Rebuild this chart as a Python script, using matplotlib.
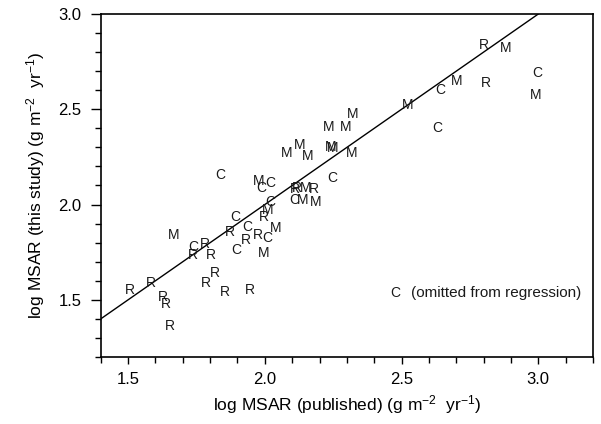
import matplotlib
matplotlib.use("Agg")
import matplotlib.pyplot as plt
from matplotlib.ticker import MultipleLocator

plt.rcParams['font.family'] = ['Liberation Sans', 'DejaVu Sans']
plt.rcParams['mathtext.fontset'] = 'custom'
plt.rcParams['mathtext.rm'] = 'Liberation Sans'
plt.rcParams['mathtext.it'] = 'Liberation Sans'

# R points (published, this study)
r_x = [1.507, 1.583, 1.627, 1.639, 1.654, 1.786, 1.816, 1.855, 1.947, 1.737,
       1.782, 1.803, 1.874, 1.929, 1.975, 1.996, 2.119, 2.178, 2.801, 2.808, 2.110]
r_y = [1.551, 1.588, 1.514, 1.478, 1.362, 1.588, 1.642, 1.542, 1.551, 1.735,
       1.793, 1.735, 1.857, 1.816, 1.840, 1.936, 2.087, 2.081, 2.837, 2.636, 2.080]

# M points
m_x = [1.666, 1.996, 2.038, 2.009, 2.148, 2.137, 2.185, 1.976, 2.081, 2.127,
       2.156, 2.240, 2.248, 2.233, 2.295, 2.321, 2.316, 2.521, 2.701, 2.881, 2.991]
m_y = [1.840, 1.744, 1.875, 1.971, 2.087, 2.024, 2.013, 2.125, 2.269, 2.312,
       2.256, 2.300, 2.295, 2.408, 2.408, 2.475, 2.269, 2.522, 2.648, 2.820, 2.575]

# C points (omitted from regression)
c_x = [1.837, 2.020, 1.987, 2.246, 2.106, 2.020, 1.892, 1.935, 1.896, 1.739,
       2.009, 2.643, 2.631, 2.997]
c_y = [2.155, 2.115, 2.087, 2.139, 2.024, 2.013, 1.937, 1.882, 1.761, 1.778,
       1.823, 2.601, 2.400, 2.689]

# regression line endpoints
line_x = [1.4, 3.0]
line_y = [1.4, 3.0]

fig = plt.figure(figsize=(6.01, 4.24), dpi=100)
ax = fig.add_axes([0.1676, 0.158, 0.8191, 0.809])

ax.plot(line_x, line_y, color='black', lw=1.0)

fs = 10
col = '#1a1a1a'
for xs, ys, lab in [(r_x, r_y, 'R'), (m_x, m_y, 'M'), (c_x, c_y, 'C')]:
    for x, y in zip(xs, ys):
        ax.text(x, y, lab, ha='center', va='center', fontsize=fs, color=col)

ax.text(0.598, 0.187, 'C', transform=ax.transAxes, ha='center', va='center',
        fontsize=fs, color=col)
ax.text(0.630, 0.187, '(omitted from regression)', transform=ax.transAxes,
        ha='left', va='center', fontsize=11, color=col)

ax.set_xlim(1.4, 3.2)
ax.set_ylim(1.2, 3.0)
ax.xaxis.set_minor_locator(MultipleLocator(0.1))
ax.yaxis.set_minor_locator(MultipleLocator(0.1))
ax.set_xticks([1.5, 2.0, 2.5, 3.0])
ax.set_xticklabels(['1.5', '2.0', '2.5', '3.0'])
ax.set_yticks([1.5, 2.0, 2.5, 3.0])
ax.set_yticklabels(['1.5', '2.0', '2.5', '3.0'])

ax.tick_params(axis='both', which='major', direction='out', length=5, width=1,
               labelsize=12, pad=6)
ax.tick_params(axis='both', which='minor', direction='out', length=4, width=1)
ax.tick_params(axis='y', which='major', length=7, pad=7)

for s in ax.spines.values():
    s.set_linewidth(1.2)

ax.set_xlabel('log MSAR (published) (g m$^{-2}$  yr$^{-1}$)', fontsize=12.5, labelpad=4)
ax.set_ylabel('log MSAR (this study) (g m$^{-2}$  yr$^{-1}$)', fontsize=12.5, labelpad=8)

fig.savefig('out.png', dpi=100)
